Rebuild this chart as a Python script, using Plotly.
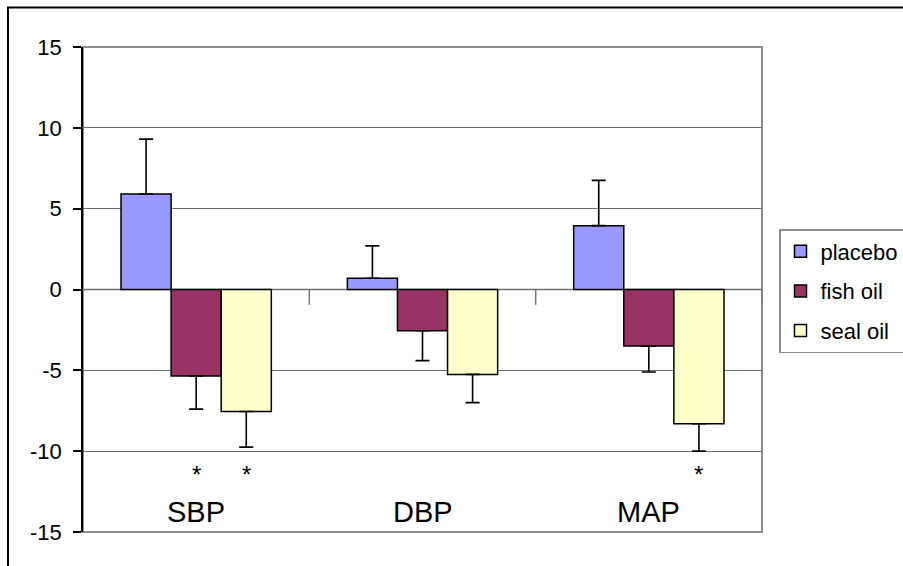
import plotly.graph_objects as go

categories = ["SBP", "DBP", "MAP"]
series_names = ["placebo", "fish oil", "seal oil"]
placebo = [5.9, 0.7, 3.95]
fish_oil = [-5.35, -2.55, -3.5]
seal_oil = [-7.55, -5.25, -8.3]
placebo_err = [3.4, 2.0, 2.8]
fish_oil_err = [2.05, 1.85, 1.6]
seal_oil_err = [2.2, 1.75, 1.7]
colors = ["#9999FF", "#993366", "#FFFFCC"]
y_ticks = [-15, -10, -5, 0, 5, 10, 15]
# significance markers: (category, series index)
significant = [("SBP", 1), ("SBP", 2), ("MAP", 2)]

FONT = "Liberation Sans, Arial, sans-serif"

fig = go.Figure()
all_vals = [placebo, fish_oil, seal_oil]
all_errs = [placebo_err, fish_oil_err, seal_oil_err]
for i, (name, vals, errs) in enumerate(zip(series_names, all_vals, all_errs)):
    plus = [e if v >= 0 else 0 for v, e in zip(vals, errs)]
    minus = [e if v < 0 else 0 for v, e in zip(vals, errs)]
    fig.add_trace(go.Bar(
        x=categories, y=vals, name=name, legendgroup=name,
        marker=dict(color=colors[i], line=dict(color="black", width=1.5)),
        error_y=dict(type="data", symmetric=False, array=plus, arrayminus=minus,
                     color="black", thickness=1.6, width=7),
    ))

W, H = 903, 566
L, T = 83, 47
R = W - 762
B = H - 532
pw, ph = W - L - R, H - T - B

def px_x(p):
    return (p - L) / pw

def px_y(p):
    return (H - B - p) / ph

shapes = []
# outer chart border (extends beyond the canvas on right & bottom)
shapes.append(dict(type="rect", xref="paper", yref="paper",
                   x0=px_x(8), x1=px_x(915), y0=px_y(580), y1=px_y(7.5),
                   line=dict(color="black", width=2), layer="below"))
# plot-area border (gray)
shapes.append(dict(type="rect", xref="paper", yref="paper",
                   x0=0, x1=1, y0=0, y1=1,
                   line=dict(color="#8c8c8c", width=2), layer="below"))
# category axis at y=0 with tick marks between categories
shapes.append(dict(type="line", xref="paper", yref="y", x0=0, x1=1, y0=0, y1=0,
                   line=dict(color="#7a7a7a", width=1.5), layer="below"))
for xb in [0.5, 1.5, 2.5]:
    shapes.append(dict(type="line", xref="x", yref="y", x0=xb, x1=xb, y0=0, y1=-0.95,
                       line=dict(color="#7a7a7a", width=1.5), layer="below"))

annotations = []
for c in categories:
    annotations.append(dict(x=c, y=-13.75, xref="x", yref="y", text=c, showarrow=False,
                            font=dict(family=FONT, size=29, color="black")))
offsets = [-50, 0, 50]
for c, si in significant:
    annotations.append(dict(x=c, y=-11.45, xref="x", yref="y", text="*", showarrow=False,
                            xshift=offsets[si], font=dict(family=FONT, size=24, color="black")))

fig.update_layout(
    width=W, height=H,
    margin=dict(l=L, r=R, t=T, b=B, pad=0, autoexpand=False),
    paper_bgcolor="white", plot_bgcolor="white",
    barmode="group", bargap=0.336, bargroupgap=0,
    font=dict(family=FONT, color="black"),
    shapes=shapes, annotations=annotations,
    showlegend=True,
    legend=dict(x=px_x(779), y=px_y(229), xanchor="left", yanchor="top",
                bordercolor="#8c8c8c", borderwidth=1.5, bgcolor="white",
                font=dict(family=FONT, size=22, color="black"),
                tracegroupgap=8, traceorder="grouped", itemwidth=30),
    xaxis=dict(showticklabels=False, showline=False, showgrid=False, ticks="",
               zeroline=False, range=[-0.5, 2.5]),
    yaxis=dict(range=[-15, 15], tickvals=y_ticks, ticktext=[str(v) for v in y_ticks],
               showgrid=True, gridcolor="#6e6e6e", gridwidth=1,
               zeroline=False, showline=True, linecolor="black", linewidth=1.5,
               ticks="outside", ticklen=8, tickwidth=1.5, tickcolor="black",
               ticklabelstandoff=7,
               tickfont=dict(family=FONT, size=22, color="black")),
)

post = ("document.body.style.margin='0';document.body.style.padding='0';"
        "document.body.style.overflow='hidden';"
        "document.documentElement.style.overflow='hidden';")
fig.write_html("out.html", post_script=post,
               config={"displayModeBar": False, "staticPlot": False})
